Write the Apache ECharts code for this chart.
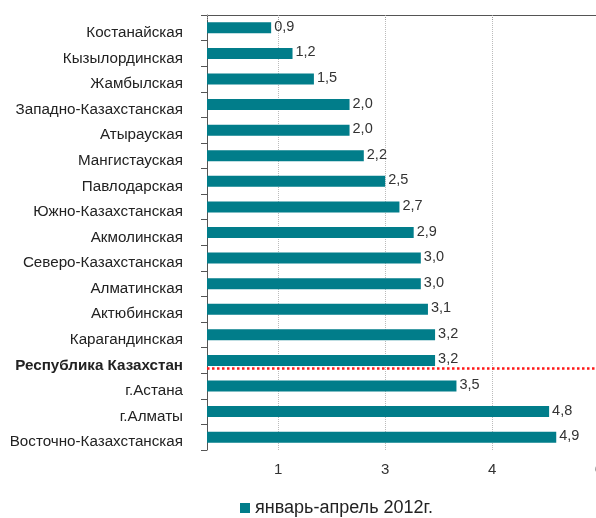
<!DOCTYPE html>
<html><head><meta charset="utf-8">
<script src="https://cdn.jsdelivr.net/npm/echarts@6/dist/echarts.min.js"></script>
<style>html,body{margin:0;padding:0;background:#fff}#c{width:596px;height:518px}</style>
</head><body><div id="c"></div>
<script>
const categories = ['Костанайская','Кызылординская','Жамбылская','Западно-Казахстанская','Атырауская','Мангистауская','Павлодарская','Южно-Казахстанская','Акмолинская','Северо-Казахстанская','Алматинская','Актюбинская','Карагандинская','Республика Казахстан','г.Астана','г.Алматы','Восточно-Казахстанская'];
const values = [0.9,1.2,1.5,2.0,2.0,2.2,2.5,2.7,2.9,3.0,3.0,3.1,3.2,3.2,3.5,4.8,4.9];
const seriesName = 'январь-апрель 2012г.';
const xTicks = [1, 2.5, 4, 5.5];
const highlightCategory = 'Республика Казахстан';
const refLineAt = [13.8];

const chart = echarts.init(document.getElementById('c'));
const font = 'Liberation Sans, Arial, sans-serif';
chart.setOption({
  animation: false,
  textStyle: {fontFamily: font},
  grid: {left: 207, right: -3, top: 15, bottom: 68, containLabel: false, outerBoundsMode: 'none'},
  legend: {top: 494, left: 235, itemWidth: 10, itemHeight: 10, itemGap: 6,
    textStyle: {fontSize: 18, color: '#222', fontFamily: font}, data: [seriesName], icon: 'rect'},
  xAxis: {type: 'value', min: 0, max: 5.5,
    axisLine: {show: true, lineStyle: {color: '#555'}},
    axisTick: {show: true, length: 5, customValues: [0].concat(xTicks), lineStyle: {color: '#999', type: 'dotted'}},
    axisLabel: {customValues: xTicks, fontSize: 15, color: '#333', margin: 12,
      formatter: v => String(Math.round(v))},
    splitLine: {show: true, lineStyle: {color: '#bbb', type: 'dotted'}}
  },
  yAxis: [{type: 'category', data: categories, inverse: true,
    axisLine: {show: true, lineStyle: {color: '#555'}},
    axisTick: {show: true, length: 6, lineStyle: {color: '#555'}},
    axisLabel: {fontSize: 15.2, color: '#222', margin: 24, padding: [10, 0, 0, 0],
      formatter: v => v === highlightCategory ? '{b|' + v + '}' : v,
      rich: {b: {fontWeight: 'bold', fontSize: 15.2, color: '#222', fontFamily: font}}}
  }, {type: 'value', min: 0, max: categories.length, inverse: true, show: false}],
  series: [{
    name: seriesName, type: 'bar', data: values, barWidth: 11,
    itemStyle: {color: '#017d8a'},
    label: {show: true, position: 'right', distance: 3, offset: [0, -1], fontSize: 14.5, color: '#333',
      formatter: p => p.value.toFixed(1).replace('.', ',')}
  }, {
    name: 'ref', type: 'line', yAxisIndex: 1, data: [], silent: true,
    markLine: {silent: true, symbol: 'none', label: {show: false},
      lineStyle: {color: '#ff1a1a', type: 'dotted', width: 2.5},
      data: refLineAt.map(v => ({yAxis: v}))}
  }]
});
</script></body></html>
